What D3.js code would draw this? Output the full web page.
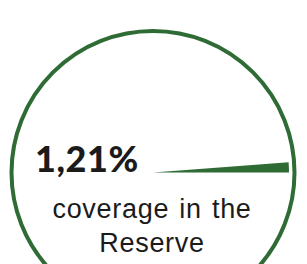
<!DOCTYPE html>
<html>
<head>
<meta charset="utf-8">
<script src="https://cdn.jsdelivr.net/npm/d3@7"></script>
<style>
  html, body { margin: 0; padding: 0; background: #fff; }
  svg { display: block; }
</style>
</head>
<body>
<div class="chart"></div>
<script>
var svgWidth = 307;
var svgHeight = 264;

// data
var shareLabels = ["1,21%"];
var shareValues = [1.21];
var captionLines = ["coverage in the", "Reserve"];

var green = "#2f6b34";

var svg = d3.select(".chart")
  .append("svg")
  .attr("width", svgWidth)
  .attr("height", svgHeight);

var cx = 153, cy = 172.5, R = 141.5;

// percent -> angle, starting at 3 o'clock going up
var angle = d3.scaleLinear()
  .domain([0, 100])
  .range([0, 2 * Math.PI]);

var g = svg.append("g")
  .attr("transform", `translate(${cx}, ${cy})`);

// outline ring
g.append("circle")
  .attr("r", R)
  .attr("fill", "none")
  .attr("stroke", green)
  .attr("stroke-width", 4);

var arc = d3.arc()
  .innerRadius(0)
  .outerRadius(136);

g.selectAll("path.slice")
  .data(shareValues)
  .enter()
  .append("path")
  .attr("class", "slice")
  .attr("fill", green)
  .attr("d", d => arc({
    startAngle: Math.PI / 2 - angle(d),
    endAngle: Math.PI / 2
  }));

// big number
svg.append("text")
  .attr("x", 35)
  .attr("y", 172.3)
  .attr("font-family", "Lato, 'DejaVu Sans', sans-serif")
  .attr("font-weight", 900)
  .attr("font-size", 36)
  .attr("letter-spacing", 0.6)
  .attr("fill", "#1b1b1b")
  .text(shareLabels[0]);

// caption
svg.selectAll("text.caption")
  .data(captionLines)
  .enter()
  .append("text")
  .attr("class", "caption")
  .attr("x", 152)
  .attr("y", (d, i) => 218.3 + i * 33.4)
  .attr("text-anchor", "middle")
  .attr("font-family", "'Liberation Sans', Arial, sans-serif")
  .attr("font-size", 27)
  .attr("letter-spacing", 0.7)
  .attr("word-spacing", 2)
  .attr("fill", "#1b1b1b")
  .text(d => d);
</script>
</body>
</html>
